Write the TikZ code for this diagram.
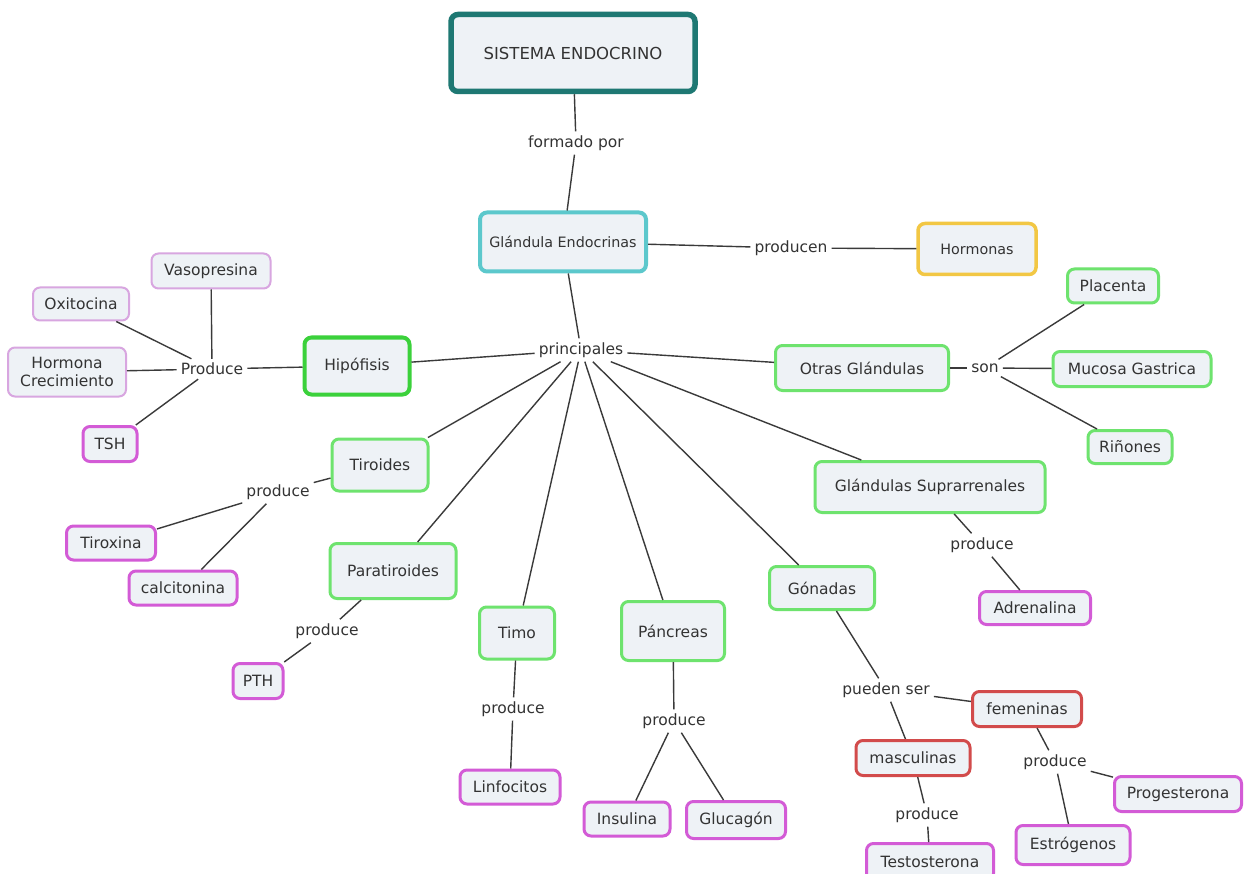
\documentclass[tikz,border=0pt]{standalone}
\usepackage{fontspec}
\setmainfont{DejaVu Sans}
\usetikzlibrary{positioning}

\definecolor{cajafondo}{HTML}{EEF2F6}
\definecolor{textogris}{HTML}{333333}
\definecolor{lineagris}{HTML}{3A3A3A}
\definecolor{tealosc}{HTML}{1E7873}
\definecolor{cianb}{HTML}{5CC8CC}
\definecolor{amarillob}{HTML}{F2C744}
\definecolor{verdeb}{HTML}{6EE36E}
\definecolor{verdehip}{HTML}{3BD13B}
\definecolor{magentab}{HTML}{D35BD6}
\definecolor{lilab}{HTML}{D8A6E0}
\definecolor{rojob}{HTML}{D24B4B}

\begin{document}
\begin{tikzpicture}[
		x=1pt, y=-1pt,
		font=\fontsize{15.5}{18.5}\selectfont,
		concepto/.style={rectangle, draw, rounded corners=7pt, fill=cajafondo,
			text=textogris, align=center, inner sep=0pt, line width=3pt},
		caja/.style 2 args={minimum width=#1pt, minimum height=#2pt},
		raiz/.style={concepto, draw=tealosc, line width=5.5pt,
			font=\fontsize{16.5}{19}\selectfont},
		grupo/.style={concepto, draw=cianb, line width=4pt,
			font=\fontsize{14.3}{17}\selectfont},
		producto/.style={concepto, draw=amarillob, line width=3.5pt,
			font=\fontsize{14.3}{17}\selectfont},
		glandula/.style={concepto, draw=verdeb},
		secrecion/.style={concepto, draw=magentab},
		secrecionclara/.style={concepto, draw=lilab, line width=2pt},
		tipo/.style={concepto, draw=rojob},
		enlace/.style={text=textogris, inner sep=4pt},
		linea/.style={draw=lineagris, line width=1.4pt}
		]
		\clip (0,0) rectangle (1244,874);
		\fill[white] (0,0) rectangle (1244,874);
		
		% 1. Raiz y glandulas endocrinas
		\node[raiz, caja={244}{77}] (sistema) at (573,53) {SISTEMA ENDOCRINO};
		\node[enlace] (formado) at (576,143) {formado por};
		\node[grupo, caja={166}{59}] (endocrinas) at (563,242) {Glándula Endocrinas};
		\node[enlace] (producen) at (791,248) {producen};
		\node[producto, caja={118}{51}] (hormonas) at (977,249) {Hormonas};
		\node[enlace] (principales) at (581,350) {principales};
		
		% 2. Glandulas principales
		\node[glandula, draw=verdehip, line width=4pt, caja={105}{57}] (hipofisis) at (357,366) {Hipófisis};
		\node[glandula, caja={96}{52}] (tiroides) at (380,465) {Tiroides};
		\node[glandula, caja={126}{55}] (paratiroides) at (393,571) {Paratiroides};
		\node[glandula, caja={75}{52}] (timo) at (517,633) {Timo};
		\node[glandula, caja={103}{59}] (pancreas) at (673,631) {Páncreas};
		\node[glandula, caja={105}{43}] (gonadas) at (822,588) {Gónadas};
		\node[glandula, caja={230}{51}] (suprarrenales) at (930,487) {Glándulas Suprarrenales};
		\node[glandula, caja={173}{45}] (otras) at (862,368) {Otras Glándulas};
		
		% 3. Hipofisis
		\node[enlace] (prodhip) at (212,369) {Produce};
		\node[secrecionclara, caja={119}{35}] (vasopresina) at (211,271) {Vasopresina};
		\node[secrecionclara, caja={96}{33}] (oxitocina) at (81,304) {Oxitocina};
		\node[secrecionclara, caja={118}{49}] (crecimiento) at (67,372) {Hormona\\Crecimiento};
		\node[secrecion, caja={54}{35}] (tsh) at (110,444) {TSH};
		
		% 4. Tiroides, paratiroides, timo, pancreas
		\node[enlace] (prodtir) at (278,492) {produce};
		\node[secrecion, caja={89}{34}] (tiroxina) at (111,543) {Tiroxina};
		\node[secrecion, caja={108}{34}] (calcitonina) at (183,588) {calcitonina};
		\node[enlace] (prodpar) at (327,631) {produce};
		\node[secrecion, caja={50}{35}] (pth) at (258,681) {PTH};
		\node[enlace] (prodtimo) at (513,709) {produce};
		\node[secrecion, caja={100}{34}] (linfocitos) at (510,787) {Linfocitos};
		\node[enlace] (prodpan) at (674,721) {produce};
		\node[secrecion, caja={86}{34}] (insulina) at (627,819) {Insulina};
		\node[secrecion, caja={99}{37}] (glucagon) at (736,820) {Glucagón};
		
		% 5. Gonadas y suprarrenales
		\node[enlace] (pueden) at (886,690) {pueden ser};
		\node[tipo, caja={109}{35}] (femeninas) at (1027,709) {femeninas};
		\node[tipo, caja={114}{35}] (masculinas) at (913,758) {masculinas};
		\node[enlace] (prodmasc) at (927,815) {produce};
		\node[secrecion, caja={127}{37}] (testosterona) at (930,862) {Testosterona};
		\node[enlace] (prodfem) at (1055,762) {produce};
		\node[secrecion, caja={127}{35}] (progesterona) at (1178,794) {Progesterona};
		\node[secrecion, caja={114}{39}] (estrogenos) at (1073,845) {Estrógenos};
		\node[enlace] (prodsup) at (982,545) {produce};
		\node[secrecion, caja={111}{33}] (adrenalina) at (1035,608) {Adrenalina};
		
		% 6. Otras glandulas
		\node[enlace] (son) at (985,368) {son};
		\node[glandula, caja={91}{34}] (placenta) at (1113,286) {Placenta};
		\node[glandula, caja={158}{35}] (mucosa) at (1132,369) {Mucosa Gastrica};
		\node[glandula, caja={84}{33}] (rinones) at (1130,447) {Riñones};
		
		% 7. Conexiones
		\draw[linea] (sistema) -- (formado);
		\draw[linea] (formado) -- (endocrinas);
		\draw[linea] (endocrinas) -- (producen);
		\draw[linea] (producen) -- (hormonas);
		\draw[linea] (endocrinas) -- (principales);
		\foreach \g in {hipofisis, tiroides, paratiroides, timo, pancreas, gonadas, suprarrenales, otras}
			\draw[linea] (principales) -- (\g);
		
		\draw[linea] (hipofisis) -- (prodhip);
		\foreach \s in {vasopresina, oxitocina, crecimiento, tsh}
			\draw[linea] (prodhip) -- (\s);
		\draw[linea] (tiroides) -- (prodtir);
		\draw[linea] (prodtir) -- (tiroxina);
		\draw[linea] (prodtir) -- (calcitonina);
		\draw[linea] (paratiroides) -- (prodpar);
		\draw[linea] (prodpar) -- (pth);
		\draw[linea] (timo) -- (prodtimo);
		\draw[linea] (prodtimo) -- (linfocitos);
		\draw[linea] (pancreas) -- (prodpan);
		\draw[linea] (prodpan) -- (insulina);
		\draw[linea] (prodpan) -- (glucagon);
		
		\draw[linea] (gonadas) -- (pueden);
		\draw[linea] (pueden) -- (femeninas);
		\draw[linea] (pueden) -- (masculinas);
		\draw[linea] (masculinas) -- (prodmasc);
		\draw[linea] (prodmasc) -- (testosterona);
		\draw[linea] (femeninas) -- (prodfem);
		\draw[linea] (prodfem) -- (progesterona);
		\draw[linea] (prodfem) -- (estrogenos);
		\draw[linea] (suprarrenales) -- (prodsup);
		\draw[linea] (prodsup) -- (adrenalina);
		
		\draw[linea] (otras) -- (son);
		\foreach \o in {placenta, mucosa, rinones}
			\draw[linea] (son) -- (\o);
		
	\end{tikzpicture}
\end{document}
